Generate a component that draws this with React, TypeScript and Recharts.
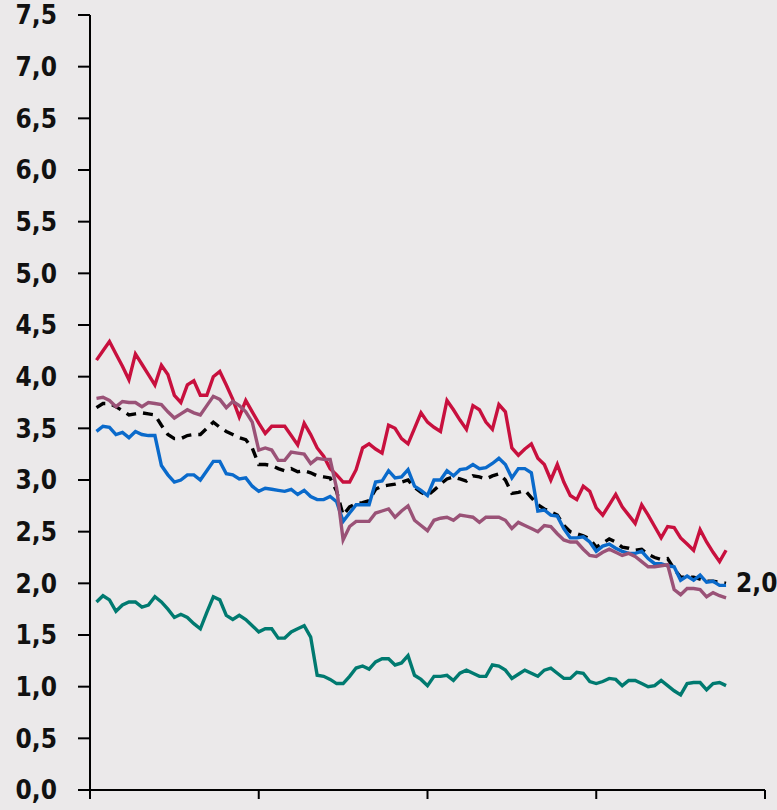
import React from 'react';
import { LineChart, Line, XAxis, YAxis } from 'recharts';

const red = [
  4.16, 4.25, 4.34, 4.22, 4.10, 3.97, 4.22, 4.12, 4.02, 3.92, 4.11, 4.02, 3.82, 3.75, 3.92, 3.96, 3.82, 3.82, 4.00, 4.05,
  3.92, 3.78, 3.61, 3.77, 3.66, 3.55, 3.45, 3.52, 3.52, 3.52, 3.43, 3.34, 3.55, 3.44, 3.31, 3.23, 3.11, 3.05, 2.98, 2.98,
  3.10, 3.31, 3.35, 3.30, 3.26, 3.53, 3.50, 3.40, 3.35, 3.50, 3.65, 3.56, 3.51, 3.47, 3.77, 3.68, 3.58, 3.49, 3.72, 3.68,
  3.56, 3.49, 3.73, 3.66, 3.31, 3.24, 3.30, 3.35, 3.21, 3.15, 3.00, 3.15, 2.98, 2.85, 2.81, 2.94, 2.89, 2.73, 2.66, 2.76,
  2.86, 2.74, 2.66, 2.58, 2.76, 2.66, 2.55, 2.44, 2.55, 2.54, 2.44, 2.38, 2.32, 2.52, 2.40, 2.30, 2.21, 2.32,
];
const mauve = [
  3.79, 3.80, 3.77, 3.71, 3.76, 3.75, 3.75, 3.71, 3.75, 3.74, 3.73, 3.66, 3.60, 3.64, 3.68, 3.65, 3.63, 3.72, 3.81, 3.78,
  3.70, 3.76, 3.72, 3.66, 3.56, 3.29, 3.31, 3.29, 3.19, 3.19, 3.27, 3.26, 3.25, 3.16, 3.21, 3.20, 3.20, 2.92, 2.42, 2.55,
  2.60, 2.60, 2.60, 2.68, 2.70, 2.72, 2.64, 2.70, 2.75, 2.61, 2.56, 2.51, 2.61, 2.63, 2.64, 2.61, 2.66, 2.65, 2.64, 2.59,
  2.64, 2.64, 2.64, 2.61, 2.53, 2.59, 2.56, 2.53, 2.50, 2.56, 2.55, 2.48, 2.42, 2.40, 2.40, 2.33, 2.27, 2.26, 2.30, 2.33,
  2.30, 2.27, 2.29, 2.26, 2.21, 2.16, 2.16, 2.17, 2.18, 1.94, 1.89, 1.95, 1.95, 1.94, 1.87, 1.91, 1.88, 1.86,
];
const blue = [
  3.47, 3.52, 3.51, 3.44, 3.46, 3.41, 3.47, 3.44, 3.43, 3.43, 3.14, 3.05, 2.98, 3.00, 3.05, 3.05, 3.00, 3.09, 3.18, 3.18,
  3.06, 3.05, 3.01, 3.02, 2.94, 2.89, 2.92, 2.91, 2.90, 2.89, 2.91, 2.86, 2.90, 2.84, 2.81, 2.81, 2.84, 2.79, 2.60, 2.68,
  2.76, 2.76, 2.76, 2.98, 2.99, 3.09, 3.02, 3.03, 3.10, 2.94, 2.90, 2.85, 3.00, 3.00, 3.09, 3.04, 3.10, 3.11, 3.15, 3.11,
  3.12, 3.16, 3.21, 3.15, 3.02, 3.11, 3.11, 3.07, 2.70, 2.71, 2.66, 2.65, 2.53, 2.44, 2.44, 2.45, 2.40, 2.31, 2.36, 2.38,
  2.34, 2.31, 2.29, 2.29, 2.31, 2.24, 2.19, 2.19, 2.17, 2.16, 2.03, 2.07, 2.03, 2.08, 2.01, 2.02, 1.98, 1.98,
];
const average = [
  3.70, 3.74, 3.74, 3.71, 3.67, 3.63, 3.64, 3.65, 3.64, 3.63, 3.53, 3.44, 3.40, 3.40, 3.43, 3.44, 3.44, 3.50, 3.56, 3.51,
  3.47, 3.44, 3.41, 3.39, 3.31, 3.15, 3.15, 3.14, 3.11, 3.09, 3.11, 3.08, 3.09, 3.07, 3.04, 3.03, 3.02, 2.89, 2.66, 2.74,
  2.77, 2.78, 2.80, 2.91, 2.94, 2.95, 2.96, 2.98, 3.00, 2.93, 2.88, 2.85, 2.90, 2.96, 3.01, 3.03, 3.01, 2.99, 3.04, 3.03,
  3.01, 3.04, 3.06, 3.00, 2.87, 2.88, 2.90, 2.83, 2.76, 2.72, 2.69, 2.66, 2.56, 2.50, 2.48, 2.46, 2.43, 2.35, 2.39, 2.43,
  2.40, 2.35, 2.34, 2.32, 2.33, 2.28, 2.25, 2.23, 2.24, 2.14, 2.06, 2.06, 2.06, 2.04, 2.02, 2.02, 2.01, 2.00,
];
const teal = [
  1.82, 1.88, 1.84, 1.73, 1.79, 1.82, 1.82, 1.77, 1.79, 1.87, 1.82, 1.75, 1.67, 1.70, 1.67, 1.61, 1.56, 1.72, 1.87, 1.84,
  1.69, 1.65, 1.69, 1.65, 1.59, 1.53, 1.56, 1.56, 1.47, 1.47, 1.53, 1.56, 1.59, 1.48, 1.11, 1.10, 1.07, 1.03, 1.03, 1.10,
  1.18, 1.20, 1.17, 1.24, 1.27, 1.27, 1.21, 1.23, 1.30, 1.11, 1.07, 1.01, 1.10, 1.10, 1.11, 1.06, 1.13, 1.16, 1.13, 1.10,
  1.10, 1.21, 1.20, 1.16, 1.08, 1.12, 1.16, 1.13, 1.10, 1.16, 1.18, 1.13, 1.08, 1.08, 1.14, 1.13, 1.05, 1.03, 1.05, 1.08,
  1.07, 1.01, 1.06, 1.06, 1.03, 1.00, 1.01, 1.06, 1.01, 0.96, 0.92, 1.03, 1.04, 1.04, 0.97, 1.03, 1.04, 1.01,
];

const yTicks = [0, 0.5, 1, 1.5, 2, 2.5, 3, 3.5, 4, 4.5, 5, 5.5, 6, 6.5, 7, 7.5];
const xTicks = [0, 26, 52, 78, 104];

const data = red.map((v, i) => ({
  t: i + 1,
  red: v,
  mauve: mauve[i],
  blue: blue[i],
  average: average[i],
  teal: teal[i],
}));

const FONT = "'DejaVu Sans Condensed', 'Liberation Sans Narrow', 'Roboto', sans-serif";
const fmt = (v: number) => v.toFixed(1).replace('.', ',');

const EndLabel = (props: any) => {
  const { x, y, index, value } = props;
  if (index !== data.length - 1) return null;
  return (
    <text x={x + 10} y={y} dy={9} fill="#111" fontSize={26} fontWeight={600} fontFamily={FONT}>
      {fmt(value)}
    </text>
  );
};

export default function App() {
  return (
    <div style={{ position: 'absolute', left: 0, top: 0, width: 777, height: 810, background: '#ebe9ea' }}>
      <LineChart width={777} height={810} data={data} margin={{ top: 15, right: 12, bottom: 0, left: 0 }}>
        <XAxis
          dataKey="t"
          type="number"
          domain={[0, 104]}
          ticks={xTicks}
          tickFormatter={() => ''}
          tickSize={9}
          height={20}
          axisLine={{ stroke: '#000', strokeWidth: 2 }}
          tickLine={{ stroke: '#000', strokeWidth: 2 }}
        />
        <YAxis
          domain={[0, 7.5]}
          ticks={yTicks}
          interval={0}
          width={90}
          tickSize={12}
          tickMargin={21}
          tickFormatter={fmt}
          axisLine={{ stroke: '#000', strokeWidth: 2 }}
          tickLine={{ stroke: '#000', strokeWidth: 2 }}
          tick={{ fill: '#111', fontSize: 26, fontWeight: 600, fontFamily: FONT }}
        />
        <Line dataKey="teal" stroke="#007a70" strokeWidth={3.4} dot={false} isAnimationActive={false} />
        <Line dataKey="red" stroke="#c8103e" strokeWidth={3.4} dot={false} isAnimationActive={false} />
        <Line
          dataKey="average"
          stroke="#000"
          strokeWidth={3.4}
          strokeDasharray="10 7"
          dot={false}
          isAnimationActive={false}
          label={<EndLabel />}
        />
        <Line dataKey="blue" stroke="#0a6acb" strokeWidth={3.4} dot={false} isAnimationActive={false} />
        <Line dataKey="mauve" stroke="#9a5277" strokeWidth={3.4} dot={false} isAnimationActive={false} />
      </LineChart>
    </div>
  );
}
